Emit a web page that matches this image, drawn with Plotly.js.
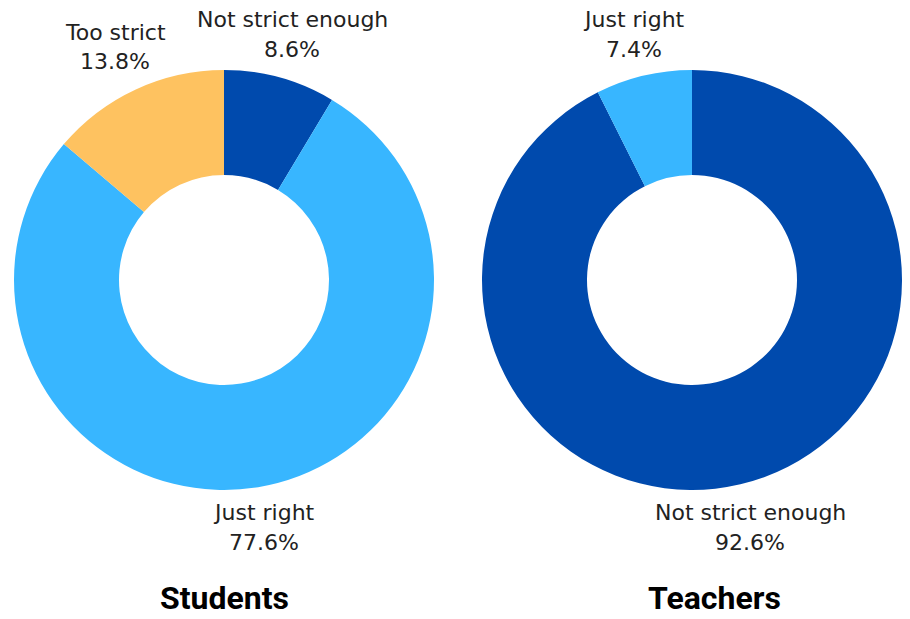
<!DOCTYPE html>
<html>
<head>
<meta charset="utf-8">
<script src="https://cdn.plot.ly/plotly-3.0.1.min.js"></script>
<style>html,body{margin:0;padding:0;background:#fff;}#chart{width:910px;height:619px;}</style>
</head>
<body>
<div id="chart"></div>
<script>
const studentLabels = ["Not strict enough", "Just right", "Too strict"];
const studentValues = [8.6, 77.6, 13.8];
const teacherLabels = ["Not strict enough", "Just right"];
const teacherValues = [92.6, 7.4];
const groupTitles = ["Students", "Teachers"];

const colorMap = {"Not strict enough": "#004AAD", "Just right": "#38B6FF", "Too strict": "#FEC260"};
const labelFont = {family: "DejaVu Sans, sans-serif", size: 22, color: "#222222"};

// label anchor points (pixel centres of the first line) for each slice
const studentLabelPos = [[292, 20], [264, 512], [115, 32]];
const teacherLabelPos = [[750, 512], [634, 20]];

function pieTrace(labels, values, domainX) {
  return {
    type: "pie",
    labels: labels,
    values: values,
    hole: 0.5,
    sort: false,
    direction: "clockwise",
    rotation: 0,
    marker: {colors: labels.map(l => colorMap[l]), line: {width: 0}},
    textposition: "none",
    hoverinfo: "none",
    showlegend: false,
    automargin: false,
    domain: {x: domainX, y: [1 - 490/619, 1 - 70/619]}
  };
}

const data = [
  pieTrace(studentLabels, studentValues, [14/910, 434/910]),
  pieTrace(teacherLabels, teacherValues, [482/910, 902/910])
];

function sliceAnnotations(labels, values, positions) {
  const out = [];
  labels.forEach((l, i) => {
    const [px, py] = positions[i];
    out.push({text: l, x: px/910, y: 1 - py/619, xref: "paper", yref: "paper",
      showarrow: false, xanchor: "center", yanchor: "middle", font: labelFont});
    out.push({text: values[i].toFixed(1) + "%", x: px/910, y: 1 - (py + 30)/619, xref: "paper", yref: "paper",
      showarrow: false, xanchor: "center", yanchor: "middle", font: labelFont});
  });
  return out;
}

const titleFont = {family: "Roboto, sans-serif", size: 32, color: "#000000", weight: 900};

const layout = {
  width: 910, height: 619,
  margin: {l: 0, r: 0, t: 0, b: 0},
  paper_bgcolor: "#ffffff",
  plot_bgcolor: "#ffffff",
  showlegend: false,
  annotations: [
    ...sliceAnnotations(studentLabels, studentValues, studentLabelPos),
    ...sliceAnnotations(teacherLabels, teacherValues, teacherLabelPos),
    {text: "<b>" + groupTitles[0] + "</b>", x: 224/910, y: 1 - 598/619, xref: "paper", yref: "paper",
     showarrow: false, xanchor: "center", yanchor: "middle", font: titleFont},
    {text: "<b>" + groupTitles[1] + "</b>", x: 714/910, y: 1 - 598/619, xref: "paper", yref: "paper",
     showarrow: false, xanchor: "center", yanchor: "middle", font: titleFont}
  ]
};

Plotly.newPlot("chart", data, layout, {displayModeBar: false, staticPlot: true});
</script>
</body>
</html>
